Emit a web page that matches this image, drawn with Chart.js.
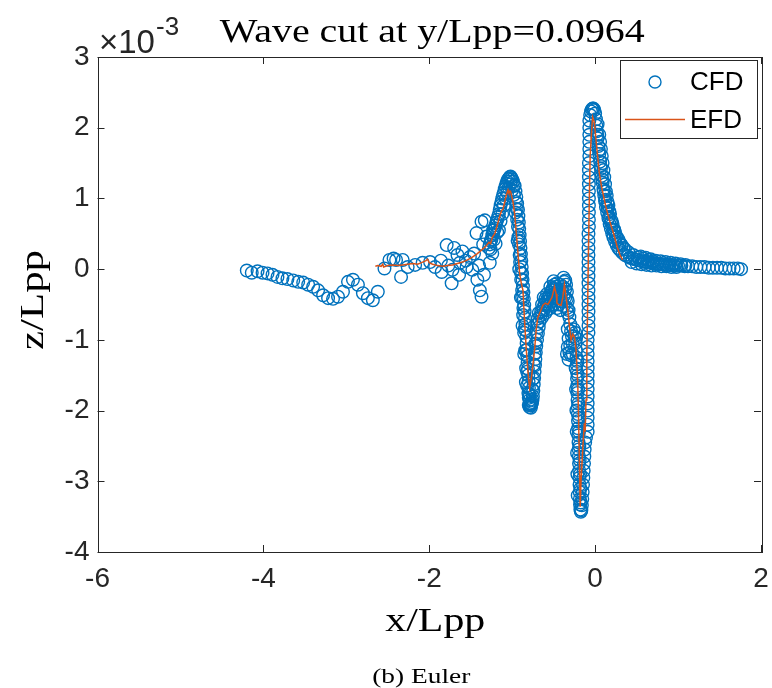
<!DOCTYPE html>
<html>
<head>
<meta charset="utf-8">
<title>Wave cut</title>
<script src="https://cdn.jsdelivr.net/npm/chart.js@4.4.1/dist/chart.umd.min.js"></script>
<style>body{margin:0;background:#fff}canvas{display:block}</style>
</head>
<body>
<canvas id="waveChart" width="772" height="688"></canvas>
<script>
const xTicks = [-6, -4, -2, 0, 2];
const zTicks = [-4, -3, -2, -1, 0, 1, 2, 3];

// CFD wave cut, [x/Lpp, z/Lpp * 1e3]
const cfd = [
  [-4.20,-0.02],[-4.14,-0.05],[-4.07,-0.03],[-4.01,-0.05],[-3.95,-0.06],[-3.89,-0.08],[-3.83,-0.11],[-3.77,-0.13],[-3.71,-0.14],
  [-3.64,-0.16],[-3.58,-0.18],[-3.52,-0.19],[-3.46,-0.22],[-3.40,-0.25],[-3.34,-0.30],[-3.28,-0.37],[-3.22,-0.41],[-3.16,-0.42],
  [-3.10,-0.39],[-3.04,-0.32],[-2.98,-0.18],[-2.92,-0.15],[-2.86,-0.22],[-2.80,-0.34],[-2.74,-0.41],[-2.68,-0.44],[-2.62,-0.32],
  [-2.54,0.01],[-2.48,0.13],[-2.43,0.15],[-2.40,0.13],[-2.34,-0.11],[-2.32,0.13],[-2.26,0.03],[-2.17,0.06],[-2.08,0.09],[-1.99,0.10],
  [-1.93,0.03],[-1.86,0.12],[-1.85,-0.04],[-1.79,0.34],[-1.77,0.05],[-1.73,-0.20],[-1.72,-0.01],[-1.70,0.30],[-1.66,0.20],[-1.64,-0.08],
  [-1.63,0.09],[-1.60,0.25],[-1.56,0.12],[-1.55,0.03],[-1.51,0.17],[-1.48,-0.01],[-1.46,0.22],[-1.43,0.51],[-1.42,-0.15],[-1.40,0.05],
  [-1.39,-0.30],[-1.37,-0.39],[-1.37,0.67],[-1.35,0.35],[-1.34,-0.08],[-1.33,0.69],[-1.31,0.46],[-1.28,0.30],[-1.27,0.09],[-1.23,0.55],
  [-1.27,0.35],[-1.25,0.42],[-1.24,0.22],[-1.23,0.50],[-1.21,0.58],[-1.20,0.36],[-1.19,0.66],[-1.17,0.74],[-1.16,0.55],[-1.15,0.84],
  [-1.13,0.95],[-1.12,0.78],[-1.11,1.05],[-1.09,1.13],[-1.08,1.00],[-1.07,1.21],[-1.05,1.27],[-1.04,1.15],[-1.03,1.30],[-1.01,1.29],
  [-1.00,1.12],[-0.99,1.24],
  [-1.26,0.28],[-1.22,0.42],[-1.18,0.52],[-1.14,0.68],[-1.10,0.90],[-1.06,1.08],[-1.02,1.20],[-0.98,1.05],
  [-1.26,0.40],[-1.24,0.48],[-1.22,0.55],[-1.20,0.62],[-1.18,0.70],[-1.16,0.78],[-1.14,0.90],[-1.12,1.00],[-1.10,1.08],[-1.08,1.17],
  [-1.06,1.24],[-1.04,1.28],[-1.02,1.31],[-1.00,1.27],[-0.98,1.18],
  [-0.97,1.18],[-0.96,1.10],[-0.95,1.02],[-0.94,0.93],[-0.93,0.84],[-0.925,0.75],[-0.92,0.66],[-0.915,0.57],[-0.91,0.48],[-0.905,0.39],
  [-0.90,0.30],[-0.895,0.21],[-0.89,0.12],[-0.885,0.03],[-0.88,-0.06],[-0.875,-0.15],[-0.87,-0.24],[-0.865,-0.33],[-0.86,-0.42],
  [-0.855,-0.51],[-0.85,-0.60],[-0.845,-0.69],[-0.84,-0.78],[-0.835,-0.87],[-0.83,-0.96],[-0.826,-1.05],[-0.822,-1.14],[-0.818,-1.23],
  [-0.814,-1.32],[-0.81,-1.41],[-0.806,-1.50],[-0.802,-1.59],[-0.798,-1.68],[-0.794,-1.77],[-0.79,-1.85],[-0.785,-1.90],
  [-0.96,0.80],[-0.935,0.40],[-0.915,0.00],[-0.895,-0.40],[-0.875,-0.80],[-0.855,-1.20],[-0.835,-1.60],
  [-0.955,0.95],[-0.94,0.70],[-0.925,0.45],[-0.91,0.20],[-0.895,-0.05],[-0.88,-0.30],[-0.865,-0.55],[-0.85,-0.85],[-0.835,-1.15],
  [-0.82,-1.45],[-0.805,-1.75],
  [-0.945,0.85],[-0.93,0.60],[-0.918,0.35],[-0.905,0.10],[-0.892,-0.15],[-0.88,-0.40],[-0.868,-0.65],[-0.856,-0.90],[-0.844,-1.15],
  [-0.832,-1.40],[-0.82,-1.65],[-0.80,-1.82],
  [-0.80,-1.92],[-0.79,-1.95],[-0.775,-1.96],[-0.765,-1.90],[-0.755,-1.85],
  [-0.78,-1.93],[-0.77,-1.92],[-0.76,-1.88],[-0.75,-1.80],[-0.745,-1.72],[-0.74,-1.63],[-0.735,-1.54],[-0.73,-1.45],[-0.725,-1.36],
  [-0.72,-1.27],[-0.715,-1.18],[-0.71,-1.09],[-0.70,-1.00],[-0.69,-0.91],[-0.68,-0.82],[-0.67,-0.74],[-0.66,-0.66],[-0.65,-0.60],
  [-0.76,-1.70],[-0.75,-1.55],[-0.74,-1.35],[-0.73,-1.20],[-0.72,-1.05],[-0.71,-0.90],[-0.70,-0.78],[-0.69,-0.70],[-0.68,-0.62],
  [-0.63,-0.55],[-0.61,-0.50],[-0.60,-0.62],[-0.59,-0.46],[-0.57,-0.42],[-0.56,-0.52],[-0.55,-0.37],[-0.53,-0.33],[-0.52,-0.45],
  [-0.51,-0.27],[-0.49,-0.22],[-0.48,-0.40],[-0.47,-0.25],[-0.46,-0.32],[-0.45,-0.36],[-0.44,-0.50],[-0.43,-0.38],[-0.41,-0.35],
  [-0.40,-0.46],[-0.39,-0.25],[-0.37,-0.18],[-0.36,-0.16],[-0.36,-0.40],[-0.35,-0.22],[-0.34,-0.32],[-0.33,-0.45],[-0.33,-0.62],
  [-0.32,-0.58],[-0.31,-0.68],
  [-0.62,-0.40],[-0.58,-0.35],[-0.54,-0.25],[-0.50,-0.17],[-0.46,-0.20],[-0.42,-0.22],[-0.38,-0.12],[-0.64,-0.68],[-0.58,-0.58],
  [-0.54,-0.55],[-0.50,-0.50],[-0.46,-0.55],[-0.42,-0.58],[-0.38,-0.52],[-0.34,-0.55],
  [-0.64,-0.50],[-0.62,-0.58],[-0.60,-0.42],[-0.58,-0.50],[-0.56,-0.40],[-0.54,-0.42],[-0.52,-0.30],[-0.50,-0.35],[-0.48,-0.28],
  [-0.46,-0.42],[-0.44,-0.30],[-0.42,-0.45],[-0.40,-0.32],[-0.38,-0.38],[-0.36,-0.28],[-0.34,-0.42],
  [-0.30,-0.78],[-0.29,-0.88],[-0.28,-0.95],[-0.30,-1.08],[-0.31,-1.18],[-0.27,-1.05],[-0.25,-0.95],[-0.24,-1.05],[-0.23,-1.15],
  [-0.33,-0.85],[-0.32,-0.98],[-0.33,-1.10],[-0.34,-1.20],[-0.32,-1.28],[-0.29,-1.22],[-0.27,-1.20],[-0.26,-0.85],[-0.24,-0.90],[-0.23,-0.98],
  [-0.225,-1.25],[-0.222,-1.35],[-0.22,-1.45],[-0.218,-1.55],[-0.216,-1.65],[-0.214,-1.75],[-0.212,-1.85],[-0.21,-1.95],[-0.208,-2.05],
  [-0.206,-2.15],[-0.204,-2.25],[-0.202,-2.35],[-0.20,-2.45],[-0.198,-2.55],[-0.196,-2.65],[-0.194,-2.75],[-0.192,-2.85],[-0.19,-2.95],
  [-0.188,-3.05],[-0.186,-3.15],[-0.184,-3.25],[-0.182,-3.33],[-0.178,-3.40],[-0.172,-3.43],[-0.166,-3.41],[-0.16,-3.34],
  [-0.215,-1.30],[-0.21,-1.50],[-0.206,-1.70],[-0.202,-1.90],[-0.198,-2.10],[-0.194,-2.30],[-0.19,-2.50],[-0.186,-2.70],[-0.182,-2.90],
  [-0.178,-3.10],[-0.174,-3.30],
  [-0.235,-1.40],[-0.23,-1.70],[-0.226,-2.00],[-0.222,-2.30],[-0.218,-2.60],[-0.214,-2.90],[-0.21,-3.20],
  [-0.155,-3.25],[-0.15,-3.15],[-0.146,-3.05],[-0.142,-2.95],[-0.138,-2.85],[-0.134,-2.75],[-0.13,-2.65],[-0.126,-2.55],[-0.12,-2.45],[-0.11,-2.38],
  [-0.09,-2.3],[-0.09,-2.2],[-0.09,-2.1],[-0.09,-2.0],[-0.09,-1.9],[-0.09,-1.8],[-0.09,-1.7],[-0.09,-1.6],[-0.09,-1.5],[-0.09,-1.4],
  [-0.09,-1.3],[-0.09,-1.2],[-0.09,-1.1],[-0.09,-1.0],[-0.08,-0.9],[-0.08,-0.8],[-0.08,-0.7],[-0.08,-0.6],[-0.08,-0.5],[-0.08,-0.4],
  [-0.08,-0.3],[-0.08,-0.2],[-0.08,-0.1],[-0.08,0.0],[-0.08,0.1],[-0.08,0.2],[-0.08,0.3],[-0.08,0.4],[-0.08,0.5],[-0.075,0.6],
  [-0.075,0.7],[-0.075,0.8],[-0.075,0.9],[-0.075,1.0],[-0.075,1.1],[-0.075,1.2],[-0.075,1.3],[-0.075,1.4],[-0.075,1.5],[-0.07,1.6],
  [-0.07,1.7],[-0.07,1.8],[-0.07,1.9],[-0.07,2.0],[-0.07,2.1],
  [-0.06,2.18],[-0.05,2.23],[-0.04,2.26],[-0.03,2.27],[-0.02,2.27],[-0.01,2.25],[0.00,2.20],[0.01,2.12],[0.015,2.03],
  [0.02,1.95],[0.03,1.85],[0.04,1.74],[0.05,1.63],[0.06,1.52],[0.07,1.42],[0.08,1.32],[0.09,1.22],[0.10,1.13],[0.11,1.04],
  [0.12,0.96],[0.13,0.88],[0.145,0.80],[0.16,0.72],[0.175,0.64],[0.19,0.57],[0.205,0.51],[0.22,0.45],[0.24,0.39],[0.26,0.34],
  [0.28,0.30],[0.30,0.27],[0.33,0.23],[0.36,0.20],[0.39,0.18],[0.42,0.16],
  [0.05,1.90],[0.07,1.70],[0.09,1.50],[0.11,1.30],[0.13,1.10],[0.15,0.95],[0.17,0.82],[0.20,0.68],[0.23,0.56],[0.26,0.46],[0.30,0.37],[0.34,0.30],
  [0.03,2.05],[0.06,1.80],[0.08,1.60],[0.10,1.40],[0.12,1.20],[0.14,1.04],[0.16,0.90],[0.18,0.78],[0.21,0.64],[0.24,0.52],[0.28,0.42],
  [0.32,0.34],[0.36,0.28],
  [0.025,1.90],[0.045,1.68],[0.065,1.46],[0.085,1.27],[0.105,1.10],[0.125,0.98],[0.15,0.86],[0.17,0.74],[0.19,0.66],[0.22,0.55],
  [0.25,0.45],[0.29,0.36],
  [0.40,0.24],[0.46,0.20],[0.52,0.17],[0.58,0.15],[0.64,0.13],[0.70,0.11],
  [0.45,0.15],[0.48,0.14],[0.51,0.13],[0.54,0.12],[0.57,0.11],[0.60,0.10],[0.63,0.10],[0.66,0.09],[0.69,0.09],[0.72,0.08],
  [0.75,0.08],[0.78,0.07],[0.81,0.07],[0.84,0.07],[0.87,0.06],[0.90,0.06],[0.93,0.06],[0.96,0.05],[1.00,0.05],[1.04,0.05],
  [1.08,0.04],[1.12,0.04],[1.17,0.04],[1.22,0.03],[1.27,0.03],[1.32,0.03],[1.37,0.02],[1.42,0.02],[1.47,0.02],[1.52,0.02],
  [1.57,0.01],[1.62,0.01],[1.67,0.01],[1.72,0.01],[1.76,0.00],
  [0.44,0.10],[0.50,0.08],[0.56,0.07],[0.62,0.06],[0.68,0.05],[0.74,0.05],[0.80,0.04],[0.86,0.04],[0.92,0.03],[0.98,0.03],
  [0.55,0.18],[0.61,0.16],[0.67,0.14],[0.73,0.12],[0.79,0.11],[0.85,0.10],[0.91,0.09],[0.97,0.08],[1.03,0.07],[1.09,0.06]
];

// EFD measurement, [x/Lpp, z/Lpp * 1e3]
const efd = [
  [-2.65,0.04],[-2.62,0.05],[-2.58,0.04],[-2.56,0.07],[-2.55,0.03],[-2.50,0.05],[-2.44,0.06],[-2.38,0.05],[-2.32,0.06],[-2.26,0.07],
  [-2.20,0.08],[-2.14,0.07],[-2.08,0.10],[-2.04,0.12],[-2.02,0.14],[-2.00,0.09],[-1.96,0.07],[-1.90,0.05],[-1.84,0.04],[-1.78,0.05],
  [-1.72,0.06],[-1.66,0.08],[-1.60,0.10],[-1.54,0.13],[-1.48,0.17],[-1.42,0.22],[-1.36,0.28],[-1.32,0.32],[-1.28,0.38],[-1.26,0.36],
  [-1.24,0.45],[-1.21,0.50],[-1.18,0.62],[-1.15,0.75],[-1.13,0.82],[-1.11,0.85],[-1.09,0.95],[-1.07,1.05],[-1.05,1.12],[-1.04,1.08],
  [-1.02,1.10],[-1.01,1.05],[-0.99,0.95],[-0.97,0.78],[-0.95,0.50],[-0.93,0.22],[-0.91,-0.06],[-0.89,-0.20],[-0.87,-0.30],[-0.85,-0.75],
  [-0.83,-1.14],[-0.81,-1.45],[-0.79,-1.68],[-0.77,-1.55],[-0.75,-1.35],[-0.73,-1.14],[-0.71,-0.85],[-0.69,-0.68],[-0.66,-0.60],[-0.63,-0.51],
  [-0.60,-0.48],[-0.57,-0.50],[-0.55,-0.46],[-0.52,-0.40],[-0.49,-0.25],[-0.47,-0.35],[-0.46,-0.48],[-0.44,-0.50],[-0.41,-0.51],[-0.39,-0.40],
  [-0.37,-0.22],[-0.35,-0.40],[-0.33,-0.58],[-0.31,-0.80],[-0.29,-1.00],[-0.27,-0.92],[-0.25,-0.96],[-0.23,-1.14],[-0.21,-1.60],[-0.20,-2.09],
  [-0.19,-2.70],[-0.18,-3.36],[-0.17,-3.00],[-0.15,-2.56],[-0.13,-2.18],[-0.12,-2.30],[-0.11,-1.85],[-0.10,-1.20],[-0.09,-0.50],[-0.08,0.30],
  [-0.07,1.00],[-0.06,1.60],[-0.04,2.00],[-0.03,2.15],[-0.01,2.08],[0.01,1.83],[0.03,1.60],[0.05,1.36],[0.08,1.15],[0.13,0.88],
  [0.17,0.70],[0.21,0.55],[0.24,0.43],[0.27,0.30],[0.30,0.20],[0.33,0.13]
];

const blue = '#0072BD';
const orange = '#D95319';
const axisColor = '#262626';

function wideText(ctx, text, x, y, font, width) {
  ctx.font = font;
  const w = ctx.measureText(text).width;
  ctx.save();
  ctx.translate(x, y);
  ctx.scale(width / w, 1);
  ctx.textAlign = 'center';
  ctx.textBaseline = 'alphabetic';
  ctx.fillText(text, 0, 0);
  ctx.restore();
}

const frame = {
  id: 'frame',
  afterDatasetsDraw(chart) {
    const {ctx, chartArea: a, scales: {x, y}} = chart;
    ctx.save();
    ctx.strokeStyle = axisColor;
    ctx.lineWidth = 1;
    ctx.beginPath();
    xTicks.forEach(v => {
      const px = Math.round(x.getPixelForValue(v)) + 0.5;
      ctx.moveTo(px, a.bottom); ctx.lineTo(px, a.bottom - 7);
      ctx.moveTo(px, a.top); ctx.lineTo(px, a.top + 7);
    });
    zTicks.forEach(v => {
      const py = Math.round(y.getPixelForValue(v)) + 0.5;
      ctx.moveTo(a.left, py); ctx.lineTo(a.left + 7, py);
      ctx.moveTo(a.right, py); ctx.lineTo(a.right - 7, py);
    });
    ctx.stroke();
    ctx.strokeRect(Math.round(a.left) + 0.5, Math.round(a.top) + 0.5,
      Math.round(a.right - a.left), Math.round(a.bottom - a.top));
    ctx.restore();
  },
  afterDraw(chart) {
    const {ctx, chartArea: a} = chart;
    const mid = (a.left + a.right) / 2;
    ctx.save();
    ctx.fillStyle = '#000';
    wideText(ctx, 'Wave cut at y/Lpp=0.0964', mid + 3, 42, '33px "Liberation Serif"', 425);
    wideText(ctx, 'x/Lpp', mid + 6, 631, '33px "Liberation Serif"', 100);
    ctx.save();
    ctx.translate(43, 300);
    ctx.rotate(-Math.PI / 2);
    wideText(ctx, 'z/Lpp', 0, 0, '33px "Liberation Serif"', 100);
    ctx.restore();
    wideText(ctx, '(b) Euler', mid - 8, 683, '22px "Liberation Serif"', 98);

    // exponent label
    ctx.fillStyle = axisColor;
    ctx.textAlign = 'left';
    ctx.textBaseline = 'alphabetic';
    ctx.font = '33px "Liberation Sans"';
    ctx.fillText('\u00d710', 99, 53);
    const w10 = ctx.measureText('\u00d710').width;
    ctx.font = '26px "Liberation Sans"';
    ctx.fillText('-3', 100 + w10, 35);

    // legend
    ctx.fillStyle = '#fff';
    ctx.fillRect(620.5, 60.5, 137, 78);
    ctx.strokeStyle = axisColor;
    ctx.lineWidth = 1;
    ctx.strokeRect(620.5, 60.5, 137, 78);
    ctx.strokeStyle = blue;
    ctx.lineWidth = 1.4;
    ctx.beginPath();
    ctx.arc(655, 82, 6, 0, Math.PI * 2);
    ctx.stroke();
    ctx.strokeStyle = orange;
    ctx.lineWidth = 1.5;
    ctx.beginPath();
    ctx.moveTo(625, 119.5); ctx.lineTo(685, 119.5);
    ctx.stroke();
    ctx.fillStyle = '#000';
    ctx.font = '26px "Liberation Sans"';
    ctx.textBaseline = 'middle';
    ctx.fillText('CFD', 690, 83);
    ctx.fillText('EFD', 690, 121);
    ctx.restore();
  }
};

new Chart(document.getElementById('waveChart'), {
  type: 'scatter',
  data: {
    datasets: [
      {
        label: 'EFD',
        data: efd.map(p => ({x: p[0], y: p[1]})),
        type: 'line',
        showLine: true,
        borderColor: orange,
        borderWidth: 1.5,
        pointRadius: 0,
        tension: 0,
        fill: false,
        order: 0
      },
      {
        label: 'CFD',
        data: cfd.map(p => ({x: p[0], y: p[1]})),
        pointStyle: 'circle',
        pointRadius: 6.3,
        borderWidth: 1.4,
        borderColor: blue,
        backgroundColor: 'rgba(0,0,0,0)',
        order: 1
      }
    ]
  },
  options: {
    responsive: false,
    animation: false,
    devicePixelRatio: 1,
    layout: {padding: {left: 0, top: 57, right: 11, bottom: 0}},
    plugins: {legend: {display: false}, title: {display: false}, tooltip: {enabled: false}},
    scales: {
      x: {
        type: 'linear',
        min: -6, max: 2,
        afterBuildTicks: s => { s.ticks = xTicks.map(v => ({value: v})); },
        afterFit: s => { s.height = 136; s.paddingLeft = 0; s.paddingRight = 0; },
        grid: {display: false, drawTicks: false},
        border: {display: false},
        ticks: {color: axisColor, padding: 10, maxRotation: 0, font: {family: 'Liberation Sans', size: 28},
          callback: v => String(v)}
      },
      y: {
        type: 'linear',
        min: -4, max: 3,
        afterBuildTicks: s => { s.ticks = zTicks.map(v => ({value: v})); },
        afterFit: s => { s.width = 97.5; s.paddingTop = 0; s.paddingBottom = 0; },
        grid: {display: false, drawTicks: false},
        border: {display: false},
        ticks: {color: axisColor, padding: 8, font: {family: 'Liberation Sans', size: 28},
          callback: v => String(v)}
      }
    }
  },
  plugins: [frame]
});
</script>
</body>
</html>
